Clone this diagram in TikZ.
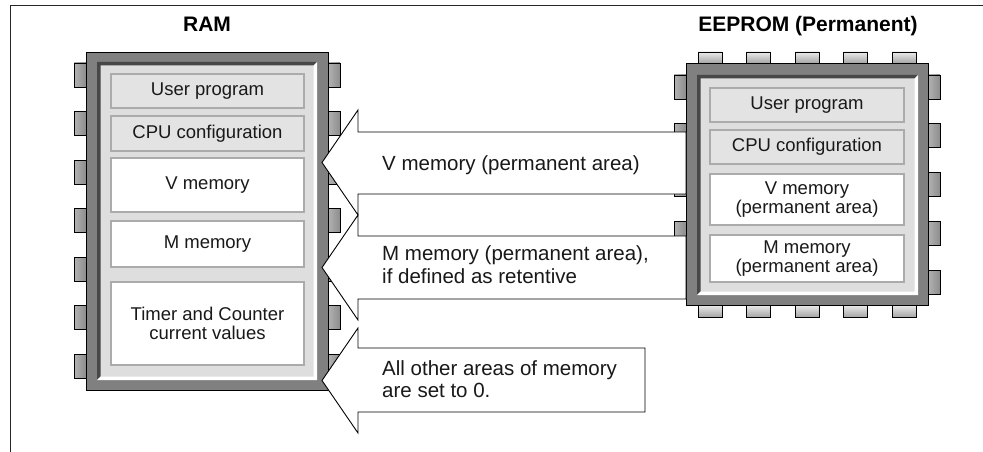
\documentclass[tikz,border=0pt]{standalone}
\usepackage{fontspec}
\setmainfont{Liberation Sans}
\begin{document}
\begin{tikzpicture}[x=1pt,y=-1pt,
  frameline/.style={draw=black!85,line width=1pt},
  chipbody/.style={fill=black!50,draw=black,line width=0.9pt},
  panel/.style={fill=black!13},
  shadowedge/.style={fill=black!72},
  hpin/.style={draw=black,line width=0.8pt,left color=black!30,middle color=black!8,right color=black!45},
  vpin/.style={draw=black,line width=0.8pt,top color=black!8,bottom color=black!35},
  membox/.style={draw=black!33,line width=2.4pt,inner sep=0pt,align=center,
     font=\fontsize{18.5}{19.5}\selectfont,text=black!90},
  gbox/.style={membox,fill=black!11},
  wbox/.style={membox,fill=white},
  title/.style={font=\bfseries\fontsize{21}{24}\selectfont,anchor=base,inner sep=0pt},
  arrowtext/.style={font=\fontsize{20.5}{22.5}\selectfont,anchor=base west,align=left,inner sep=0pt,text=black!90},
  blockarrow/.style={draw=black,fill=white,line width=0.9pt,line join=miter}]
\useasboundingbox (0,0) rectangle (983,452);
\fill[white] (0,0) rectangle (983,452);
\draw[frameline] (10,452) -- (10,6) -- (983,6);

% ---------- RAM chip ----------
\foreach \c in {75,123.5,172,220.5,269,317.5,366}{
  \draw[hpin] (74,\c-12) rectangle (86,\c+12);
  \draw[hpin] (328,\c-12) rectangle (340,\c+12);
}
\draw[chipbody] (86,52) rectangle (328,390);
\fill[panel] (97,62) rectangle (317,380);
\fill[shadowedge] (97,62) -- (317,62) -- (313.5,65.5) -- (100.5,65.5) -- (100.5,376.5) -- (97,380) -- cycle;
\fill[white] (317,62) -- (317,380) -- (97,380) -- (100.5,376.5) -- (313.5,376.5) -- (313.5,65.5) -- cycle;

\node[title] (ramtitle) at (207,31.5) {RAM};
\node[gbox,minimum width=193,minimum height=34] (ramup) at (207.5,91) {User program};
\node[gbox,minimum width=193,minimum height=35] (ramcpu) at (207.5,133.5) {CPU configuration};
\node[wbox,minimum width=193,minimum height=54] (ramv) at (207.5,185) {V memory};
\node[wbox,minimum width=193,minimum height=46] (ramm) at (207.5,244) {M memory};
\node[wbox,minimum width=193,minimum height=83] (ramtc) at (207.5,323.5) {Timer and Counter\\current values};

% ---------- EEPROM chip ----------
\foreach \c in {710,758.5,807,855.5,904}{
  \draw[vpin] (\c-12,52) rectangle (\c+12,63);
  \draw[vpin] (\c-12,305) rectangle (\c+12,317);
}
\foreach \c in {87,135.75,184.5,233.25,282}{
  \draw[hpin] (674,\c-12) rectangle (686,\c+12);
  \draw[hpin] (928,\c-12) rectangle (940,\c+12);
}
\draw[chipbody] (686,63) rectangle (928,305);
\fill[panel] (697,75) rectangle (918,295);
\fill[shadowedge] (697,75) -- (918,75) -- (914.5,78.5) -- (700.5,78.5) -- (700.5,291.5) -- (697,295) -- cycle;
\fill[white] (918,75) -- (918,295) -- (697,295) -- (700.5,291.5) -- (914.5,291.5) -- (914.5,78.5) -- cycle;

\node[title] (eetitle) at (808,31.5) {EEPROM (Permanent)};
\node[gbox,minimum width=194,minimum height=34] (eeup) at (807,105) {User program};
\node[gbox,minimum width=194,minimum height=34] (eecpu) at (807,147) {CPU configuration};
\node[wbox,minimum width=194,minimum height=51] (eev) at (807,199.5) {V memory\\(permanent area)};
\node[wbox,minimum width=194,minimum height=47] (eem) at (807,258.5) {M memory\\(permanent area)};

% ---------- block arrows ----------
\draw[blockarrow] (686,132) -- (358,132) -- (358,110) -- (322,162.5) -- (358,215) -- (358,194) -- (686,194) -- cycle;
\draw[blockarrow] (686,236) -- (358,236) -- (358,215) -- (322,267.5) -- (358,320) -- (358,299) -- (686,299) -- cycle;
\draw[blockarrow] (645,348) -- (358,348) -- (358,328) -- (322,380.5) -- (358,433) -- (358,412) -- (645,412) -- cycle;

\node[arrowtext] (tv) at (382,170) {V memory (permanent area)};
\node[arrowtext] (tm) at (382,283.3) {M memory (permanent area),\\if defined as retentive};
\node[arrowtext] (tz) at (382,397.5) {All other areas of memory\\are set to 0.};
\end{tikzpicture}
\end{document}
